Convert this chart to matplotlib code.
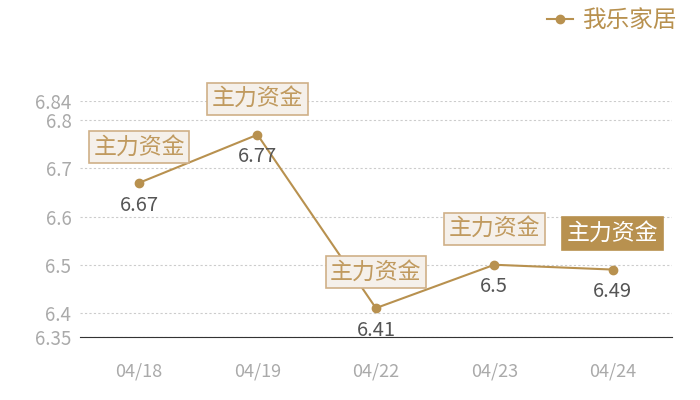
import matplotlib.pyplot as plt

plt.rcParams['font.family'] = ['Noto Sans CJK SC', 'DejaVu Sans']

dates = ["04/18", "04/19", "04/22", "04/23", "04/24"]
prices = [6.67, 6.77, 6.41, 6.50, 6.49]
tag_text = "主力资金"
yticks = [6.35, 6.4, 6.5, 6.6, 6.7, 6.8, 6.84]
series_name = "我乐家居"

gold = "#b8914f"
tag_edge = "#cfb088"
tag_face = "#f5f0ea"

fig = plt.figure(figsize=(7, 4), dpi=100)
ax = fig.add_axes([0.114, 0.1575, 0.846, 0.59])

x = list(range(len(dates)))
ax.plot(x, prices, "-o", color=gold, lw=1.5, ms=6, label=series_name)

for i, v in enumerate(prices):
    ax.annotate(f"{v:g}", (i, v), xytext=(0, -16), textcoords="offset points",
                ha="center", va="center", fontsize=14.5, color="#555555")
    last = i == len(prices) - 1
    ax.annotate(tag_text, (i, v), xytext=(0, 26), textcoords="offset points",
                ha="center", va="center", fontsize=16.5,
                color="white" if last else "#c09a5f",
                bbox=dict(boxstyle="square,pad=0.2",
                          fc=gold if last else tag_face,
                          ec=gold if last else tag_edge, lw=1.2))

ax.set_xlim(-0.5, len(dates) - 0.5)
ax.set_ylim(6.35, 6.84)
ax.set_xticks(x)
ax.set_xticklabels(dates)
ax.set_yticks(yticks)
ax.set_yticklabels([f"{t:g}" for t in yticks])
ax.tick_params(axis="x", length=0, pad=18, labelsize=13, colors="#aaaaaa")
ax.tick_params(axis="y", length=0, pad=6, labelsize=13.5, colors="#aaaaaa")
ax.grid(axis="y", ls=(0, (2, 2)), color="#cccccc", lw=0.8)
for s in ["top", "right", "left"]:
    ax.spines[s].set_visible(False)
ax.spines["bottom"].set_color("#333333")

leg = ax.legend(loc="upper right", bbox_to_anchor=(0.998, 1.03), bbox_transform=fig.transFigure,
                frameon=False, fontsize=17, handlelength=1.1, handletextpad=0.4)
for t in leg.get_texts():
    t.set_color(gold)

fig.savefig("out.png", dpi=100)
